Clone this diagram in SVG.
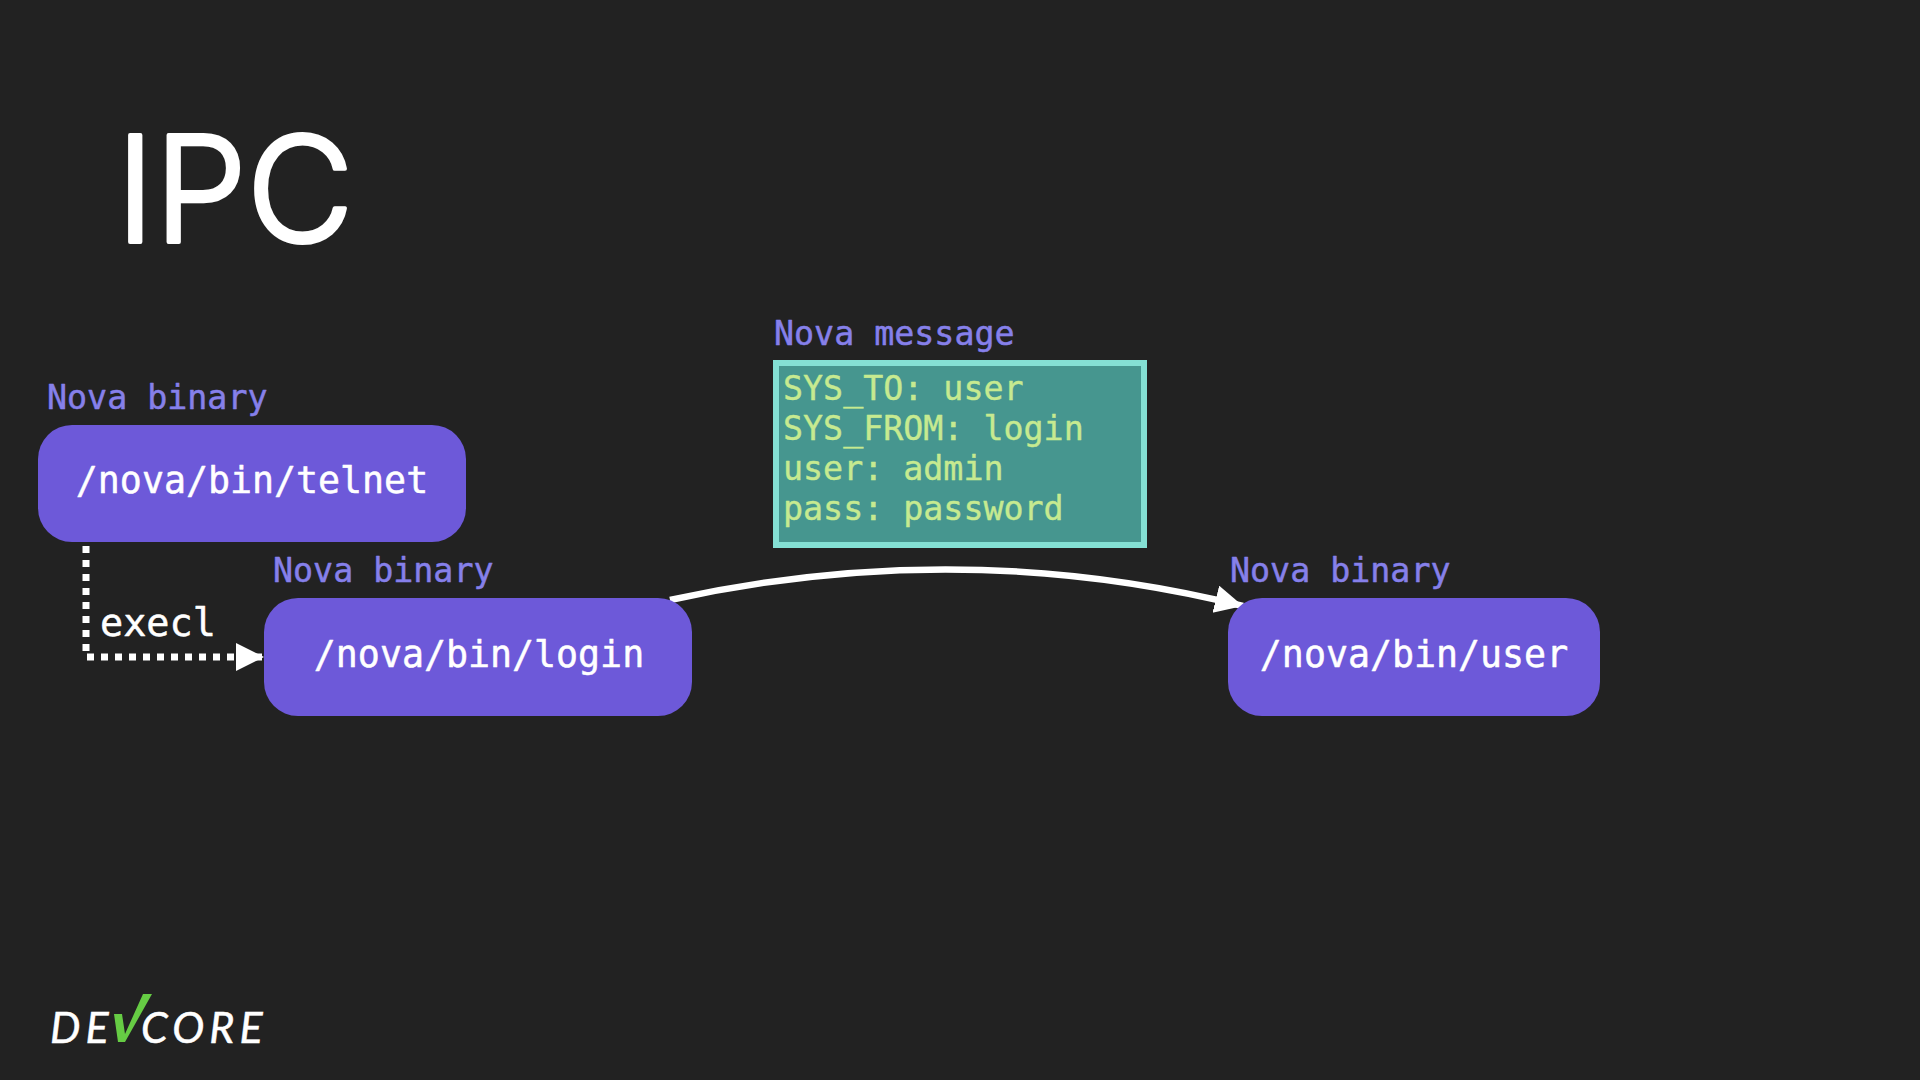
<svg xmlns="http://www.w3.org/2000/svg" width="1920" height="1080" viewBox="0 0 1920 1080">
<style>
.m{font-family:"DejaVu Sans Mono","Liberation Mono",monospace;stroke-linejoin:round}
.cap{font-size:33.3px;fill:#8680ea;stroke:#8680ea;stroke-width:.5px}
.node{fill:#6d59d9}
.nt{font-size:36.6px;fill:#fff;stroke:#fff;stroke-width:.5px;text-anchor:middle}
.msg{font-size:33.3px;fill:#c6ea90;stroke:#c6ea90;stroke-width:.4px}
.logo{font-family:"Lato","Open Sans",sans-serif;font-style:italic;font-weight:400;font-size:43px;fill:#fff;stroke:#fff;stroke-width:.5px;letter-spacing:5px}
</style>
<defs>
<marker id="a" markerUnits="userSpaceOnUse" markerWidth="30" markerHeight="30" refX="28" refY="14" orient="auto"><path d="M0 0L28 14L0 28Z" fill="#fff"/></marker>
</defs>
<rect width="1920" height="1080" fill="#222"/>
<text id="title" x="116" y="242" font-family="Inter,'Liberation Sans',sans-serif" font-weight="300" font-size="147" fill="#fff" stroke="#fff" stroke-width="4" stroke-linejoin="round">IPC</text>
<g id="connectors" fill="none" stroke="#fff">
<path d="M86 546V657H264" stroke-width="7" stroke-dasharray="7 7" marker-end="url(#a)"/>
<path d="M670 600Q960 536 1243 606" stroke-width="6.5" marker-end="url(#a)"/>
</g>
<text id="execl" class="m" x="100" y="636" font-size="38.5" fill="#fff" stroke="#fff" stroke-width=".5">execl</text>
<g id="telnet">
<text class="m cap" x="47" y="409">Nova binary</text>
<rect class="node" x="38" y="425" width="428" height="117" rx="34"/>
<text class="m nt" x="252" y="493">/nova/bin/telnet</text>
</g>
<g id="login">
<text class="m cap" x="273" y="582">Nova binary</text>
<rect class="node" x="264" y="598" width="428" height="118" rx="34"/>
<text class="m nt" x="479" y="667">/nova/bin/login</text>
</g>
<g id="user">
<text class="m cap" x="1230" y="582">Nova binary</text>
<rect class="node" x="1228" y="598" width="372" height="118" rx="34"/>
<text class="m nt" x="1414" y="667">/nova/bin/user</text>
</g>
<g id="message">
<text class="m cap" x="774" y="345">Nova message</text>
<rect x="776" y="363" width="368" height="182" fill="#46968f" stroke="#84e0d4" stroke-width="6"/>
<text class="m msg" x="783" y="400">SYS_TO: user</text>
<text class="m msg" x="783" y="440">SYS_FROM: login</text>
<text class="m msg" x="783" y="480">user: admin</text>
<text class="m msg" x="783" y="520">pass: password</text>
</g>
<g id="logo">
<text class="logo" x="50" y="1043">DE</text>
<text class="logo" x="141" y="1043">CORE</text>
<path d="M114 1014L122 1014L125 1034L143 994L152 994L125 1042L118 1042Z" fill="#66cc44"/>
</g>
</svg>
